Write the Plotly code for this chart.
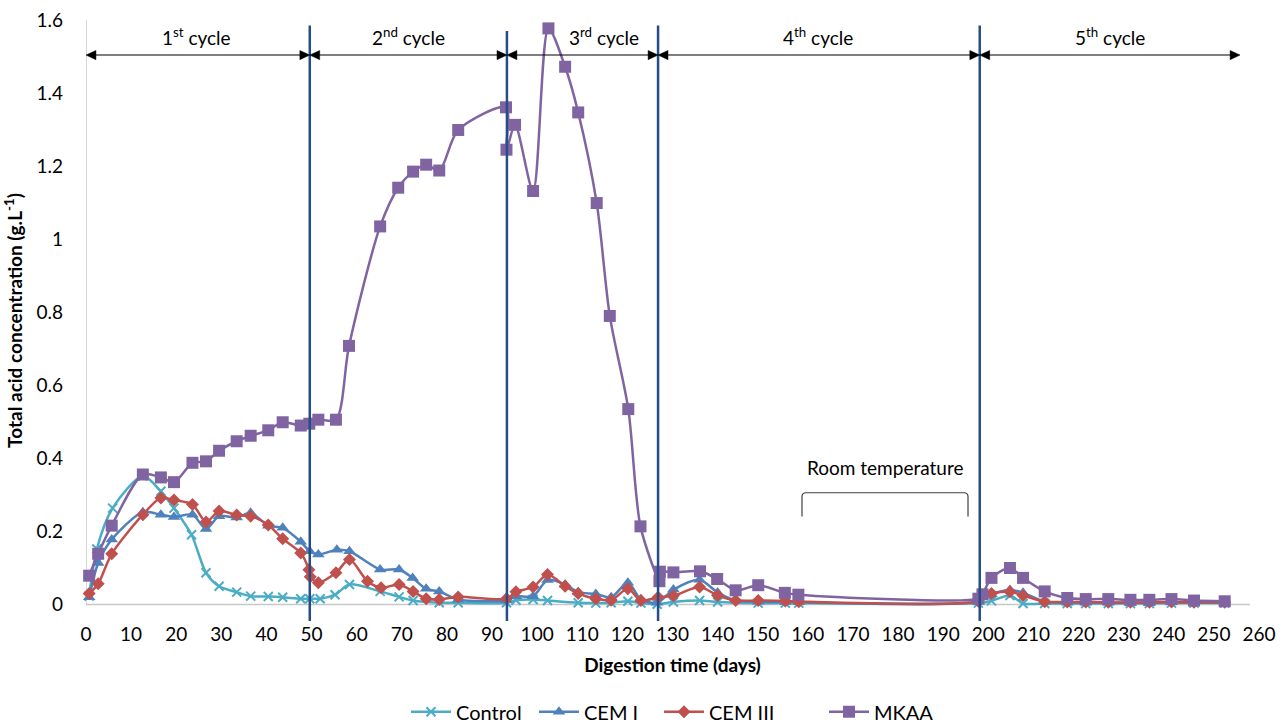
import plotly.graph_objects as go

# ---------------- data ----------------
control_days = [0.7, 2.4, 5.9, 12.6, 16.6, 19.5, 23.4, 26.6, 29.5, 33.4, 36.5, 40.4, 43.6, 47.6,
                49.6, 51.9, 55.2, 58.4, 65.2, 69.4, 72.5, 78.3, 82.5,
                93.2, 95.3, 99.1, 102.3, 109.1, 113.0, 116.4, 120.1, 123.0, 126.6,
                130.2, 136.0, 140.0, 149.0, 155.0, 158.0,
                197.8, 200.7, 204.8, 207.7, 212.5, 217.5, 221.6, 226.6, 231.5, 235.7, 240.6, 245.6, 252.4]
control_vals = [0.023, 0.152, 0.264, 0.352, 0.310, 0.264, 0.191, 0.087, 0.050, 0.034, 0.023, 0.022, 0.020, 0.016,
                0.016, 0.016, 0.027, 0.055, 0.036, 0.021, 0.011, 0.005, 0.005,
                0.005, 0.012, 0.014, 0.011, 0.005, 0.004, 0.005, 0.009, 0.004, 0.001,
                0.007, 0.011, 0.007, 0.004, 0.004, 0.004,
                0.004, 0.010, 0.025, 0.003, 0.003, 0.003, 0.003, 0.003, 0.003, 0.003, 0.004, 0.004, 0.004]

cem1_days = [0.7, 2.7, 5.7, 12.6, 16.6, 19.5, 23.6, 26.6, 29.5, 33.4, 36.5, 40.4, 43.6, 47.6, 49.6,
             51.5, 55.6, 58.4, 65.2, 69.4, 72.4, 75.4, 78.3, 82.5,
             93.2, 95.3, 99.1, 102.3, 106.2, 109.1, 113.0, 116.4, 120.1, 123.0, 126.6,
             130.2, 136.0, 140.0, 144.0, 149.0, 155.0, 158.0,
             197.8, 200.7, 204.8, 207.7, 212.5, 217.5, 221.6, 226.6, 231.5, 235.7, 240.6, 245.6, 252.4]
cem1_vals = [0.020, 0.114, 0.178, 0.253, 0.246, 0.240, 0.246, 0.207, 0.242, 0.238, 0.251, 0.216, 0.210, 0.172, 0.146,
             0.137, 0.150, 0.146, 0.096, 0.096, 0.073, 0.043, 0.036, 0.014,
             0.012, 0.023, 0.023, 0.067, 0.055, 0.034, 0.029, 0.020, 0.060, 0.014, 0.005,
             0.041, 0.068, 0.033, 0.012, 0.008, 0.007, 0.006,
             0.008, 0.028, 0.040, 0.032, 0.008, 0.005, 0.005, 0.005, 0.005, 0.005, 0.006, 0.005, 0.005]

cem3_days = [0.7, 2.7, 5.7, 12.6, 16.6, 19.5, 23.6, 26.6, 29.5, 33.4, 36.5, 40.4, 43.6, 47.6, 49.4, 49.7,
             51.5, 55.4, 58.4, 62.4, 65.4, 69.4, 72.5, 75.4, 78.3, 82.5,
             93.2, 95.3, 99.1, 102.3, 106.2, 109.1, 113.0, 116.4, 120.1, 123.0, 126.8,
             130.2, 136.0, 140.0, 144.0, 149.0, 155.0, 158.0,
             197.8, 200.7, 204.8, 207.7, 212.5, 217.5, 221.6, 226.6, 231.5, 235.7, 240.6, 245.6, 252.4]
cem3_vals = [0.030, 0.057, 0.139, 0.246, 0.292, 0.286, 0.274, 0.226, 0.256, 0.245, 0.242, 0.218, 0.180, 0.141, 0.095, 0.076,
             0.060, 0.087, 0.123, 0.064, 0.046, 0.055, 0.036, 0.016, 0.014, 0.021,
             0.016, 0.035, 0.048, 0.082, 0.050, 0.030, 0.016, 0.012, 0.043, 0.011, 0.020,
             0.024, 0.048, 0.025, 0.011, 0.011, 0.010, 0.008,
             0.009, 0.030, 0.035, 0.025, 0.008, 0.007, 0.007, 0.006, 0.006, 0.006, 0.007, 0.006, 0.006]

mkaa_days = [0.7, 2.7, 5.7, 12.6, 16.6, 19.5, 23.6, 26.6, 29.5, 33.4, 36.5, 40.4, 43.6, 47.6, 49.5,
             51.5, 55.4, 58.3, 65.2, 69.2, 72.5, 75.4, 78.3, 82.5,
             93.1, 93.2, 95.1, 99.1, 102.5, 106.2, 109.1, 113.2, 116.1, 120.2, 122.9, 127.1, 127.2,
             130.2, 136.1, 139.9, 144.0, 149.0, 154.9, 157.9,
             197.8, 198.7, 200.7, 204.8, 207.7, 212.5, 217.5, 221.6, 226.6, 231.5, 235.7, 240.6, 245.6, 252.4]
mkaa_vals = [0.079, 0.139, 0.216, 0.356, 0.348, 0.335, 0.388, 0.392, 0.421, 0.447, 0.462, 0.477, 0.499, 0.490, 0.495,
             0.506, 0.506, 0.708, 1.035, 1.141, 1.185, 1.204, 1.188, 1.299,
             1.361, 1.245, 1.313, 1.132, 1.577, 1.472, 1.347, 1.099, 0.790, 0.535, 0.214, 0.064, 0.090,
             0.088, 0.091, 0.070, 0.039, 0.053, 0.032, 0.027,
             0.016, 0.028, 0.073, 0.100, 0.073, 0.036, 0.018, 0.015, 0.015, 0.013, 0.013, 0.015, 0.011, 0.009]

cycle_bounds = [0, 49.6, 93.3, 126.8, 198.1, 255.8]   # cycle borders (days)
cycle_labels = ["1<sup>st</sup> cycle", "2<sup>nd</sup> cycle", "3<sup>rd</sup> cycle",
                "4<sup>th</sup> cycle", "5<sup>th</sup> cycle"]
x_ticks = list(range(0, 261, 10))
y_ticks = [0, 0.2, 0.4, 0.6, 0.8, 1.0, 1.2, 1.4, 1.6]
y_ticktext = ["0", "0.2", "0.4", "0.6", "0.8", "1", "1.2", "1.4", "1.6"]

FONT = "Lato"
fig = go.Figure()

series = [
    ("Control", control_days, control_vals, "#4BACC6", dict(symbol="x-thin", size=9, line=dict(width=2, color="#4BACC6"))),
    ("CEM I", cem1_days, cem1_vals, "#4F81BD", dict(symbol="triangle-up", size=11)),
    ("CEM III", cem3_days, cem3_vals, "#C0504D", dict(symbol="diamond", size=10)),
    ("MKAA", mkaa_days, mkaa_vals, "#8064A2", dict(symbol="square", size=12)),
]
legend_ids = ["legend", "legend2", "legend3", "legend4"]
legend_px = [412, 540, 665, 830]   # left edge of each legend entry (pixels)
for (name, xs, ys, col, mk), lid in zip(series, legend_ids):
    mk = dict(mk)
    mk["color"] = col
    fig.add_trace(go.Scatter(x=xs, y=ys, name=name, mode="lines+markers", legend=lid,
                             line=dict(color=col, width=2.5, shape="spline", smoothing=0.8),
                             marker=mk, cliponaxis=False))

shapes = []
# axis lines
shapes.append(dict(type="line", xref="x", yref="y", x0=0, x1=258, y0=0, y1=0,
                   line=dict(color="#C8C8C8", width=1.5), layer="below"))
shapes.append(dict(type="line", xref="x", yref="y", x0=0, x1=0, y0=0, y1=1.6,
                   line=dict(color="#C8C8C8", width=1.5), layer="below"))
# cycle separators
tops = [1.585, 1.57, 1.585, 1.585]
for b, t in zip(cycle_bounds[1:5], tops):
    shapes.append(dict(type="line", xref="x", yref="y", x0=b, x1=b, y0=-0.045, y1=t,
                       line=dict(color="#264D87", width=2.5)))
# double-headed cycle arrows
arrow_y = 1.504
hl, hh = 2.2, 0.0125   # arrow head length (days) and half height (g/L)
for i in range(5):
    a, b = cycle_bounds[i], cycle_bounds[i + 1]
    shapes.append(dict(type="line", xref="x", yref="y", x0=a + 1, x1=b - 1, y0=arrow_y, y1=arrow_y,
                       line=dict(color="#000000", width=1.1)))
    shapes.append(dict(type="path", xref="x", yref="y",
                       path=f"M {b},{arrow_y} L {b-hl},{arrow_y+hh} L {b-hl},{arrow_y-hh} Z",
                       fillcolor="#000000", line=dict(color="#000000", width=0.5)))
    shapes.append(dict(type="path", xref="x", yref="y",
                       path=f"M {a},{arrow_y} L {a+hl},{arrow_y+hh} L {a+hl},{arrow_y-hh} Z",
                       fillcolor="#000000", line=dict(color="#000000", width=0.5)))
# room temperature bracket
bx0, bx1, by0, by1 = 158.7, 195.5, 0.241, 0.306
shapes.append(dict(type="path", xref="x", yref="y",
                   path=f"M {bx0},{by0} L {bx0},{by1-0.011} Q {bx0},{by1} {bx0+0.9},{by1} "
                        f"L {bx1-0.9},{by1} Q {bx1},{by1} {bx1},{by1-0.011} L {bx1},{by0}",
                   line=dict(color="#404040", width=1.2)))

annotations = []
label_x = [24.4, 71.4, 114.8, 162.2, 227.0]
for lx, txt in zip(label_x, cycle_labels):
    annotations.append(dict(x=lx, y=1.556, xref="x", yref="y", text=txt, showarrow=False,
                            font=dict(family=FONT, size=19, color="#000000")))
annotations.append(dict(x=177, y=0.375, xref="x", yref="y", text="Room temperature", showarrow=False,
                        font=dict(family=FONT, size=19, color="#000000")))

L, R, T, B, W, H = 86, 25, 20, 101, 1284, 722
pw = W - L - R
legends = {}
for lid, px in zip(legend_ids, legend_px):
    legends[lid] = dict(orientation="h", x=(px - 6 - L) / pw, xanchor="left", y=-0.151, yanchor="middle",
                        font=dict(family=FONT, size=20, color="#000000"), itemwidth=40,
                        bgcolor="rgba(0,0,0,0)")

fig.update_layout(
    width=W, height=H,
    margin=dict(l=L, r=R, t=T, b=B, autoexpand=False),
    plot_bgcolor="white", paper_bgcolor="white",
    font=dict(family=FONT, size=19, color="#000000"),
    shapes=shapes, annotations=annotations,
    showlegend=True,
    xaxis=dict(range=[0, 260], tickvals=x_ticks, showgrid=False, zeroline=False, showline=False,
               ticks="", tickfont=dict(family=FONT, size=19),
               title=dict(text="<b>Digestion time (days)</b>", font=dict(family=FONT, size=19), standoff=14)),
    yaxis=dict(range=[-0.045, 1.6], tickvals=y_ticks, ticktext=y_ticktext, showgrid=False, zeroline=False,
               showline=False, ticks="", ticklabelstandoff=22, tickfont=dict(family=FONT, size=19),
               title=dict(text="<b>Total acid concentration (g.L<sup>-1</sup>)</b>",
                          font=dict(family=FONT, size=19), standoff=8)),
    **legends,
)

fig.write_html("out.html", post_script="document.body.style.margin='0px';",
               config={"displayModeBar": False})
